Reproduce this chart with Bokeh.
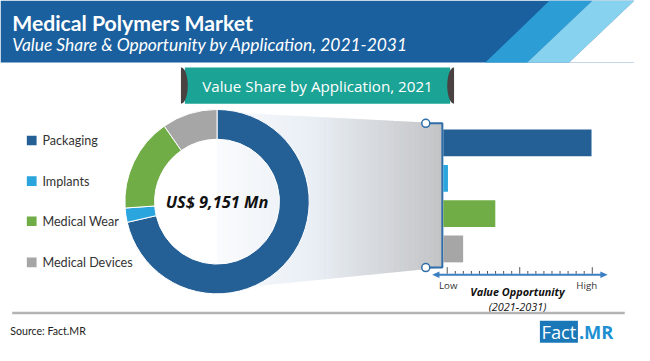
from bokeh.plotting import figure
from bokeh.models import Range1d
from bokeh.core.properties import value
from bokeh.embed import file_html
from bokeh.resources import INLINE
import math

# ---------------- data ----------------
categories = ["Packaging", "Implants", "Medical Wear", "Medical Devices"]
value_share_2021 = [71.4, 2.5, 16.4, 9.7]          # % share (donut)
value_opportunity = [99.5, 3.1, 34.9, 13.3]        # relative index, Low(0) .. High(100)
colors = ["#245f96", "#2aa5de", "#71ad46", "#a6a6a6"]
market_label = "US$ 9,151 Mn"
title = "Medical Polymers Market"
subtitle = "Value Share & Opportunity by Application, 2021-2031"
banner = "Value Share by Application, 2021"
scale_labels = ["Low", "High"]
scale_title = ["Value Opportunity", "(2021-2031)"]
source = "Source: Fact.MR"

# ---------------- layout helpers (reference pixel space, y down) ----------------
W, H = 650, 361
PW, PH = 634, 345
F = (PW / W + PH / H) / 2
def Y(y):
    return H - y
def fs(px):
    return "%.1fpx" % (px * F)

p = figure(width=PW, height=PH, x_range=Range1d(0, W), y_range=Range1d(0, H),
           output_backend="svg", toolbar_location=None, min_border=0)
p.axis.visible = False
p.grid.visible = False
p.outline_line_color = None
p.background_fill_color = "white"
p.border_fill_color = "white"

# ---------------- header ----------------
p.quad(left=0, right=650, top=Y(0), bottom=Y(65), fill_color="#1a5f9e", line_color=None)
p.patch([497, 563, 607, 540], [Y(65), Y(0), Y(0), Y(65)], fill_color="#2c9dd5", line_color=None)
p.patch([540, 607, 650, 583], [Y(65), Y(0), Y(0), Y(65)], fill_color="#87d2ef", line_color=None)
p.patch([583, 650, 650], [Y(65), Y(0), Y(65)], fill_color="white", line_color=None)
p.text(x=[12], y=[Y(24)], text=[title], text_color="white", text_font=value("Lato"),
       text_font_size=fs(22), text_font_style="bold", text_baseline="middle")
p.text(x=[12], y=[Y(46)], text=[subtitle], text_color="white", text_font=value("Lato"),
       text_font_size=fs(18), text_font_style="italic", text_baseline="middle")

# ---------------- banner ----------------
p.quad(left=189, right=461, top=Y(70), bottom=Y(108), fill_color="#1ba395", line_color=None)
ts = [(-90 + i * 6) * math.pi / 180 for i in range(31)]
lx = [185] + [185 + 7 * math.cos(t) for t in ts] + [185]
ly = [Y(70)] + [Y(89 + 19 * math.sin(t)) for t in ts] + [Y(108)]
p.patch(lx, ly, fill_color="#4a4242", line_color=None)
rx = [465] + [465 - 7 * math.cos(t) for t in ts] + [465]
p.patch(rx, ly, fill_color="#4a4242", line_color=None)
p.text(x=[325], y=[Y(89)], text=[banner], text_color="white", text_font=value("Open Sans"),
       text_font_size=fs(15.7), text_align="center", text_baseline="middle")

# ---------------- gradient connector panel ----------------
x0, x1 = 222, 453
t0, t1 = 116.5, 128.5
b0, b1 = 303.0, 279.5
stops = [(222, (250, 251, 253)), (320, (233, 239, 245)), (453, (194, 195, 197))]
def col_at(x):
    for (xa, ca), (xb, cb) in zip(stops[:-1], stops[1:]):
        if xa <= x <= xb:
            f = (x - xa) / (xb - xa)
            c = [round(ca[k] + f * (cb[k] - ca[k])) for k in range(3)]
            return "#%02x%02x%02x" % tuple(c)
    return "#%02x%02x%02x" % stops[-1][1]
def top(x):
    return t0 + (t1 - t0) * (x - x0) / (x1 - x0)
def bot(x):
    return b0 + (b1 - b0) * (x - x0) / (x1 - x0)
N = 90
xs, ys, cs = [], [], []
for i in range(N):
    xa = x0 + (x1 - x0) * i / N
    xb = min(x0 + (x1 - x0) * (i + 1) / N + 0.6, x1)
    xs.append([xa, xb, xb, xa])
    ys.append([Y(top(xa)), Y(top(xb)), Y(bot(xb)), Y(bot(xa))])
    cs.append(col_at((xa + xb) / 2))
p.patches(xs, ys, fill_color=cs, line_color=None)

# bracket
p.line([436, 453, 453, 436], [Y(128.5), Y(128.5), Y(279.5), Y(279.5)], line_color="#2f6ea9", line_width=2)
p.scatter([436, 436], [Y(128.5), Y(279.5)], size=8, marker="circle", fill_color="white",
          line_color="#2f6ea9", line_width=1.5)

# ---------------- donut ----------------
cx, cy = 222, 210.5
r_out, r_in = 94.5, 64
total = sum(value_share_2021)
starts, ends = [], []
cum = 0.0
for v in value_share_2021:
    starts.append(math.pi / 2 - 2 * math.pi * (cum + v) / total)
    ends.append(math.pi / 2 - 2 * math.pi * cum / total)
    cum += v
p.annular_wedge(x=[cx] * 4, y=[Y(cy)] * 4, inner_radius=r_in, outer_radius=r_out,
                start_angle=starts, end_angle=ends, fill_color=colors,
                line_color="white", line_width=1)
p.text(x=[cx], y=[Y(cy)], text=[market_label], text_color="#111111", text_font=value("Open Sans"),
       text_font_size=fs(17), text_font_style="bold italic", text_align="center", text_baseline="middle")

# ---------------- legend ----------------
leg_y = [146.5, 189, 231, 274]
p.rect(x=[32] * 4, y=[Y(v) for v in leg_y], width=10, height=10, fill_color=colors, line_color=None)
p.text(x=[43] * 4, y=[Y(v) for v in leg_y], text=categories, text_color="#333333",
       text_font=value("Lato"), text_font_size=fs(13), text_baseline="middle")

# ---------------- opportunity bars ----------------
bar_x0 = 454
bar_scale = (606.7 - 454) / 100.0
bar_y = [149, 186, 223, 260]
p.hbar(y=[Y(v) for v in bar_y], left=bar_x0, right=[bar_x0 + v * bar_scale for v in value_opportunity],
       height=28, fill_color=colors, line_color=None)

# scale axis
ax_y = 287
p.line([446, 619], [Y(ax_y), Y(ax_y)], line_color="#3b7fc2", line_width=2)
p.patch([442.5, 450, 450], [Y(ax_y), Y(ax_y - 3.5), Y(ax_y + 3.5)], fill_color="#3b7fc2", line_color=None)
p.patch([622.5, 615, 615], [Y(ax_y), Y(ax_y - 3.5), Y(ax_y + 3.5)], fill_color="#3b7fc2", line_color=None)
tick_x0, tick_x1 = 458, 606.7
nt = 18
tx = [tick_x0 + (tick_x1 - tick_x0) * i / nt for i in range(nt + 1)]
ttop = [279 if i in (0, nt // 2, nt) else 283 for i in range(nt + 1)]
p.segment(x0=tx, y0=[Y(ax_y - 1)] * len(tx), x1=tx, y1=[Y(t) for t in ttop], line_color="#555555", line_width=1)
p.text(x=[459, 601], y=[Y(298), Y(298)], text=scale_labels, text_color="#333333",
       text_font=value("Open Sans"), text_font_size=fs(10), text_align="center", text_baseline="middle")
p.text(x=[530], y=[Y(305)], text=[scale_title[0]], text_color="#111111", text_font=value("Open Sans"),
       text_font_size=fs(11.3), text_font_style="bold italic", text_align="center", text_baseline="middle")
p.text(x=[530], y=[Y(320)], text=[scale_title[1]], text_color="#111111", text_font=value("Open Sans"),
       text_font_size=fs(11.3), text_font_style="italic", text_align="center", text_baseline="middle")

# ---------------- footer ----------------
p.line([12, 640], [Y(327), Y(327)], line_color="#b3b3b3", line_width=2.5)
p.text(x=[10], y=[Y(346)], text=[source], text_color="#222222", text_font=value("Lato"),
       text_font_size=fs(11), text_baseline="middle")
p.quad(left=553, right=592, top=Y(335), bottom=Y(358), fill_color="#1b78b8", line_color=None)
p.text(x=[572.5], y=[Y(346.5)], text=["Fact"], text_color="white", text_font=value("Open Sans"),
       text_font_size=fs(19), text_align="center", text_baseline="middle")
p.text(x=[593], y=[Y(346.5)], text=[".MR"], text_color="#1e90d2", text_font=value("Open Sans"),
       text_font_size=fs(19), text_font_style="bold", text_baseline="middle")

open("out.html", "w").write(file_html(p, INLINE))
